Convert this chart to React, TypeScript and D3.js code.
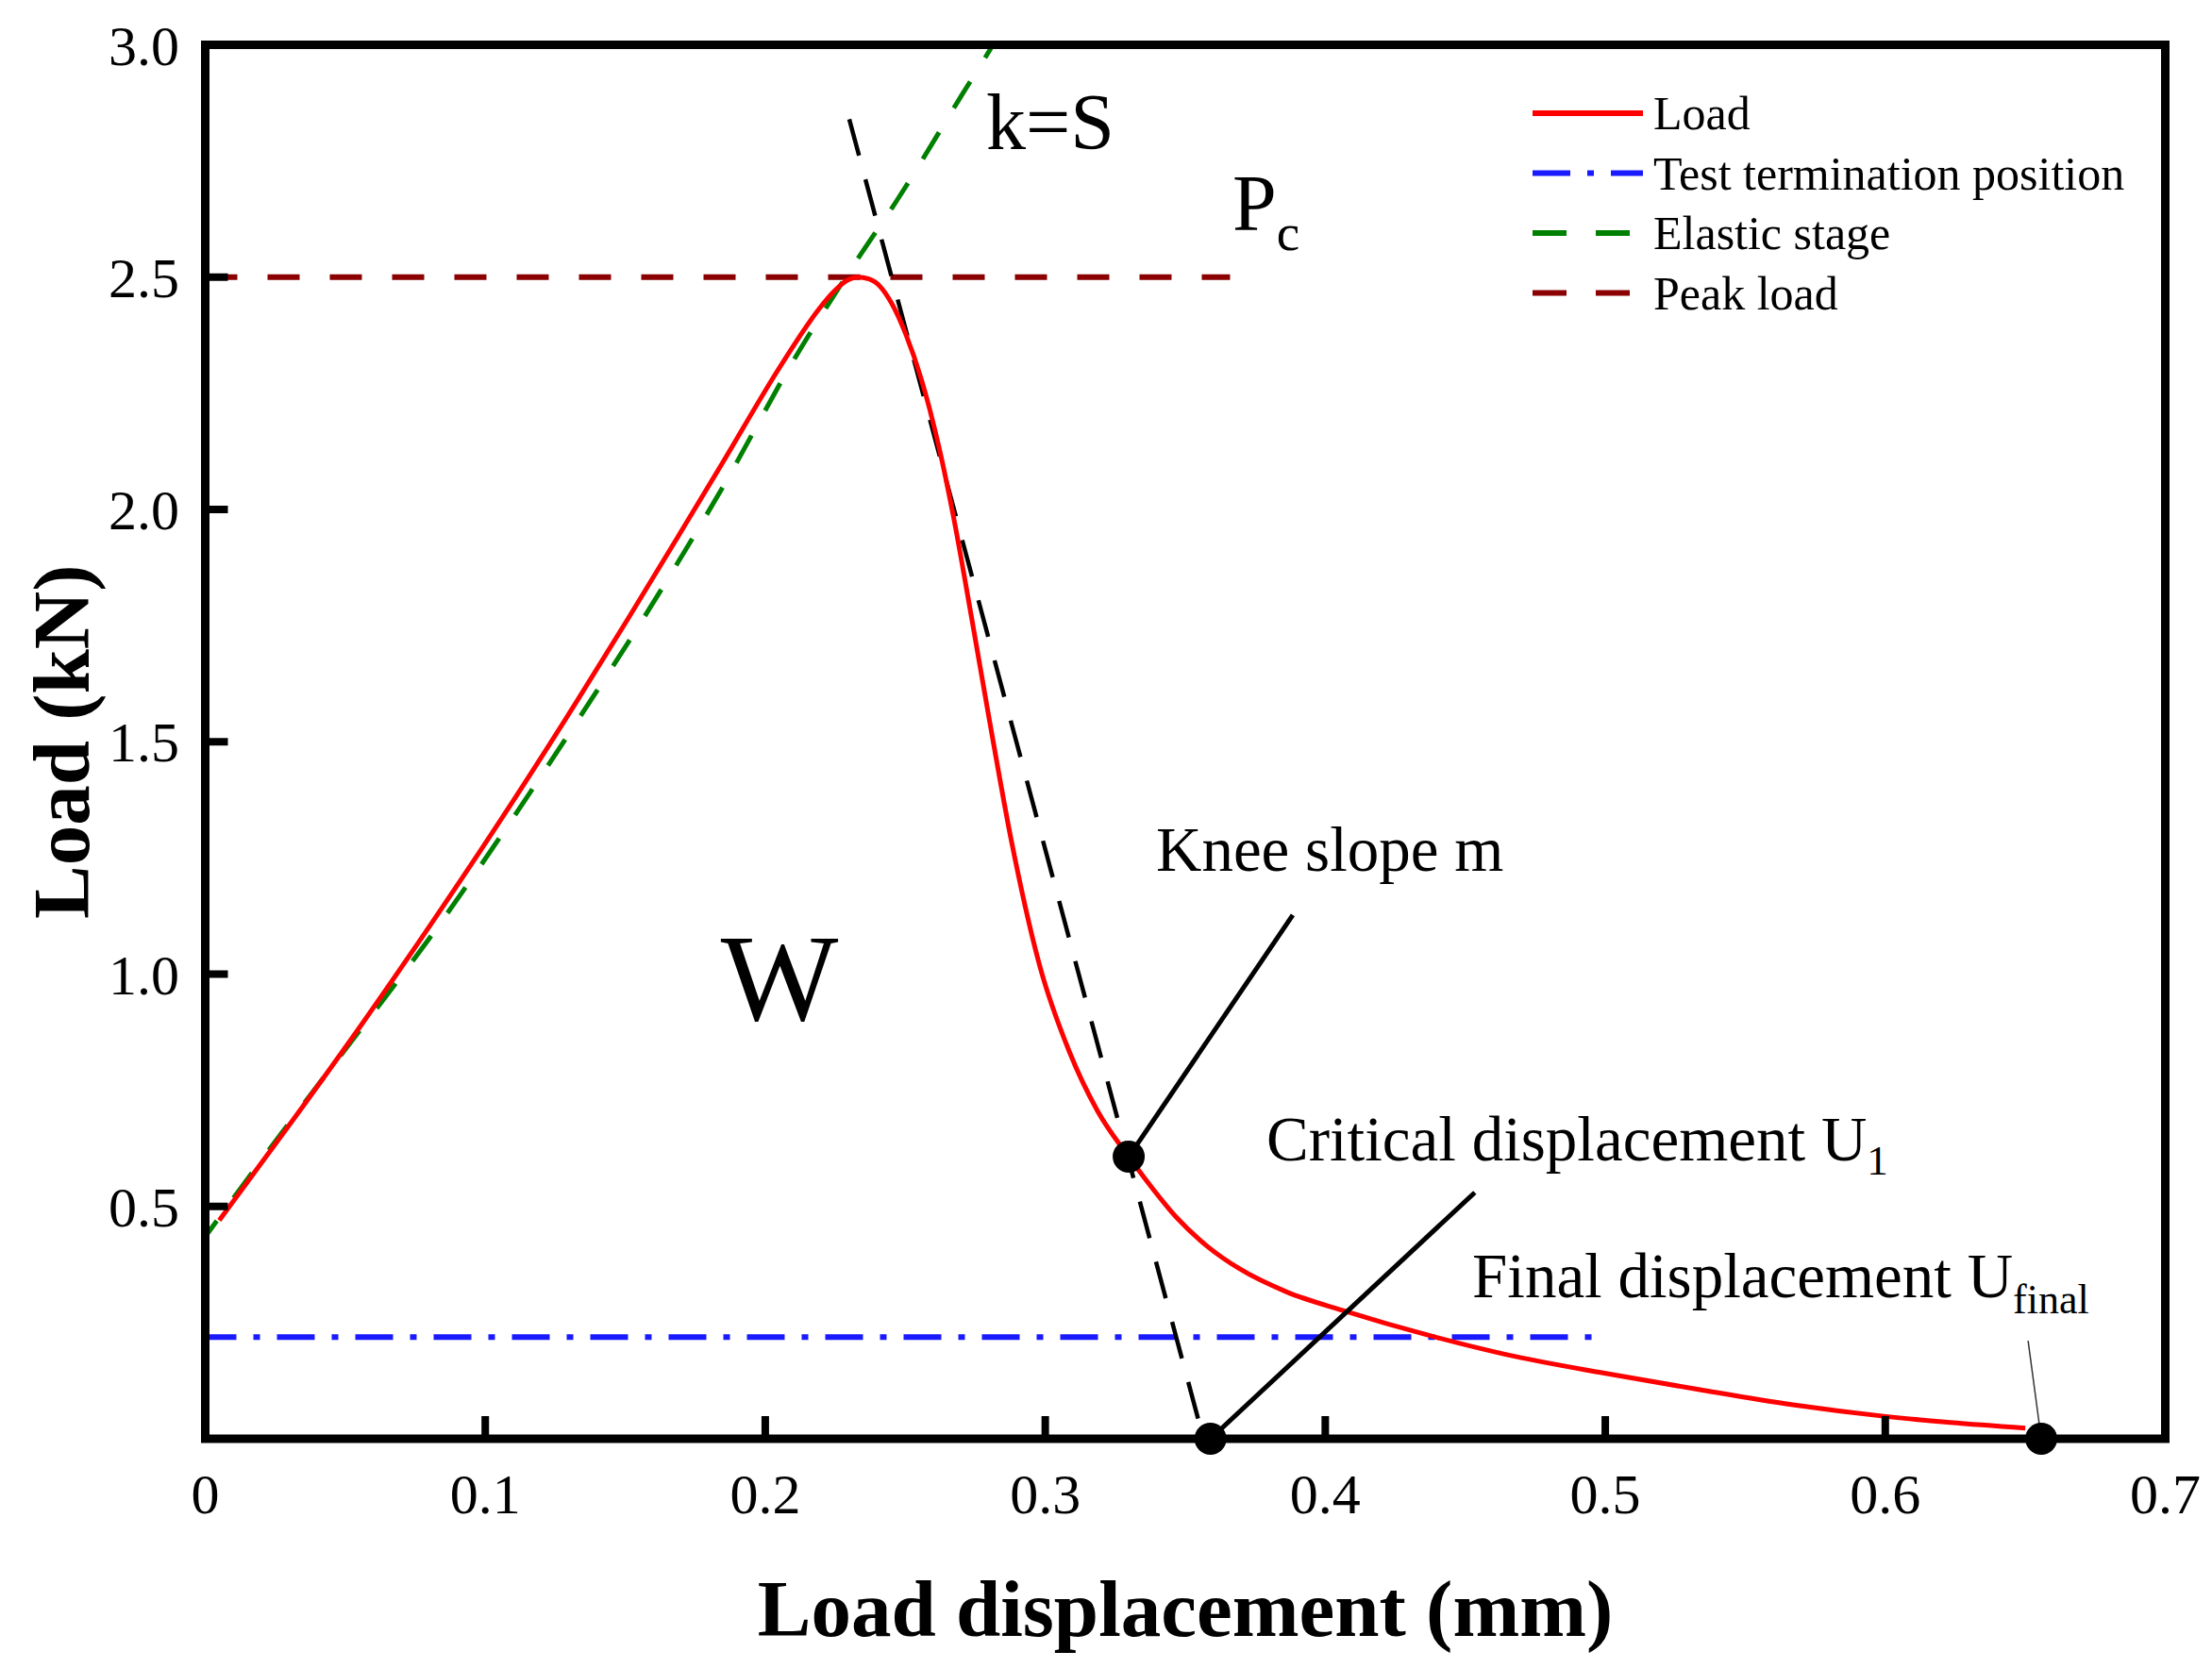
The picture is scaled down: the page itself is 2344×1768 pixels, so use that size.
import * as d3 from 'd3'

// load-displacement curve (mm, kN)
const loadX = [0.005, 0.030, 0.056, 0.081, 0.105, 0.133, 0.151, 0.169, 0.185, 0.204, 0.212, 0.219, 0.225, 0.229, 0.233, 0.237, 0.241, 0.245, 0.2504, 0.2556, 0.262, 0.2672, 0.2736, 0.2801, 0.2878, 0.2982, 0.3084, 0.3187, 0.3298, 0.3356, 0.3469, 0.3581, 0.3693, 0.3862, 0.4075, 0.4367, 0.4648, 0.4997, 0.5333, 0.567, 0.5987, 0.6232, 0.650]
const loadY = [0.47, 0.675, 0.893, 1.111, 1.327, 1.590, 1.765, 1.943, 2.103, 2.295, 2.37, 2.43, 2.472, 2.492, 2.50, 2.496, 2.48, 2.445, 2.374, 2.283, 2.135, 1.985, 1.77, 1.545, 1.29, 1.014, 0.836, 0.705, 0.607, 0.560, 0.476, 0.413, 0.366, 0.316, 0.274, 0.223, 0.181, 0.141, 0.106, 0.073, 0.049, 0.035, 0.023]

// elastic stage fit
const elasticX = [0, 0.030, 0.056, 0.081, 0.107, 0.133, 0.159, 0.185, 0.210, 0.232, 0.247, 0.270, 0.2813, 0.2842]
const elasticY = [0.435, 0.68, 0.885, 1.085, 1.31, 1.546, 1.79, 2.05, 2.32, 2.53, 2.665, 2.89, 3.0, 3.03]

// knee tangent (k=S)
const tangentX = [0.230, 0.3565]
const tangentY = [2.84, 0.0]

const peakLoad = 2.5
const peakLineEnd = 0.366
const terminationLoad = 0.219
const terminationEnd = 0.497

const kneePoint = [0.3298, 0.607]
const criticalPoint = [0.359, 0.0]
const finalPoint = [0.6557, 0.0]

const xTicks = [0, 0.1, 0.2, 0.3, 0.4, 0.5, 0.6, 0.7]
const xTickLabels = ['0', '0.1', '0.2', '0.3', '0.4', '0.5', '0.6', '0.7']
const yTicks = [0.5, 1.0, 1.5, 2.0, 2.5, 3.0]
const yTickLabels = ['0.5', '1.0', '1.5', '2.0', '2.5', '3.0']

const legendNames = ['Load', 'Test termination position', 'Elastic stage', 'Peak load']
const legendColors = ['#ff0000', '#1a1aff', '#008000', '#8b0000']
const legendDash = ['', '40 18 7 18', '36 31', '36 31']

const W = 2344
const H = 1768
const font = '"Liberation Serif", "Times New Roman", serif'

export default function App() {
  const x = d3.scaleLinear().domain([0, 0.7]).range([217.5, 2294.5])
  const y = d3.scaleLinear().domain([0, 3]).range([1525, 47.5])

  const curve = d3.line<number>()
    .x(i => x(loadX[i]))
    .y(i => y(loadY[i]))
    .curve(d3.curveMonotoneX)
  const loadPath = curve(d3.range(loadX.length)) || ''

  // drawn from the top end so the dash pattern reaches the frame
  const elastic = d3.line<number>()
    .x(i => x(elasticX[i]))
    .y(i => y(elasticY[i]))
    .curve(d3.curveMonotoneX)
  const elasticPath = elastic(d3.range(elasticX.length).reverse()) || ''

  const tickLen = 24

  return (
    <svg width={W} height={H} style={{ position: 'absolute', left: 0, top: 0, background: '#fff' }}
      fontFamily={font}>
      <defs>
        <clipPath id="plotArea">
          <rect x={x(0)} y={y(3)} width={x(0.7) - x(0)} height={y(0) - y(3)} />
        </clipPath>
      </defs>
      <rect width={W} height={H} fill="#fff" />

      {/* reference lines */}
      <g clipPath="url(#plotArea)">
        <line x1={x(0)} x2={x(peakLineEnd)} y1={y(peakLoad)} y2={y(peakLoad)}
          stroke="#8b0000" strokeWidth={6} strokeDasharray="34 32" />
        <line x1={x(0)} x2={x(terminationEnd)} y1={y(terminationLoad)} y2={y(terminationLoad)}
          stroke="#1a1aff" strokeWidth={6} strokeDasharray="40 18 7 18" strokeDashoffset={7} />
        <path d={elasticPath} fill="none" stroke="#008000" strokeWidth={5} strokeDasharray="33 30" />
        <line x1={x(tangentX[0])} x2={x(tangentX[1])} y1={y(tangentY[0])} y2={y(tangentY[1])}
          stroke="#000" strokeWidth={4.5} strokeDasharray="40 26" />
      </g>

      {/* load curve */}
      <path d={loadPath} fill="none" stroke="#ff0000" strokeWidth={5} />

      {/* leader lines */}
      <line x1={x(kneePoint[0])} y1={y(kneePoint[1])} x2={x(0.3884)} y2={y(1.127)} stroke="#000" strokeWidth={5} />
      <line x1={x(criticalPoint[0])} y1={y(criticalPoint[1])} x2={x(0.4534)} y2={y(0.530)} stroke="#000" strokeWidth={5} />
      <line x1={x(finalPoint[0])} y1={y(finalPoint[1])} x2={x(0.651)} y2={y(0.211)} stroke="#333" strokeWidth={1.5} />

      {/* frame */}
      <rect x={x(0)} y={y(3)} width={x(0.7) - x(0)} height={y(0) - y(3)} fill="none" stroke="#000" strokeWidth={9} />

      {/* ticks */}
      {xTicks.slice(1, -1).map(t => (
        <line key={'xt' + t} x1={x(t)} x2={x(t)} y1={y(0)} y2={y(0) - tickLen} stroke="#000" strokeWidth={8} />
      ))}
      {yTicks.slice(0, -1).map(t => (
        <line key={'yt' + t} x1={x(0)} x2={x(0) + tickLen} y1={y(t)} y2={y(t)} stroke="#000" strokeWidth={8} />
      ))}
      {xTicks.map((t, i) => (
        <text key={'xl' + t} x={x(t)} y={1604} fontSize={60} textAnchor="middle" fill="#000">{xTickLabels[i]}</text>
      ))}
      {yTicks.map((t, i) => (
        <text key={'yl' + t} x={190} y={y(t)} dy="0.35em" fontSize={60} textAnchor="end" fill="#000">{yTickLabels[i]}</text>
      ))}

      {/* markers */}
      {[kneePoint, criticalPoint, finalPoint].map((p, i) => (
        <circle key={'m' + i} cx={x(p[0])} cy={y(p[1])} r={17} fill="#000" />
      ))}

      {/* axis titles */}
      <text x={(x(0) + x(0.7)) / 2} y={1734} fontSize={85} fontWeight="bold" textAnchor="middle" fill="#000">
        Load displacement (mm)
      </text>
      <text transform={`translate(94, ${(y(0) + y(3)) / 2}) rotate(-90)`} fontSize={85} fontWeight="bold"
        textAnchor="middle" fill="#000">Load (kN)</text>

      {/* annotations */}
      <text x={1045} y={158} fontSize={84} fill="#000">k=S</text>
      <text x={1306} y={244} fontSize={84} fill="#000">P<tspan fontSize={55} dy={21}>c</tspan></text>
      <text x={826} y={1081} fontSize={132} textAnchor="middle" fill="#000">W</text>
      <text x={1225} y={923} fontSize={67} fill="#000">Knee slope m</text>
      <text x={1342} y={1230} fontSize={67} fill="#000">Critical displacement U<tspan fontSize={45} dy={15}>1</tspan></text>
      <text x={1560} y={1375} fontSize={67} fill="#000">Final displacement U<tspan fontSize={44} dy={17}>final</tspan></text>

      {/* legend */}
      {legendNames.map((name, i) => {
        const ly = 120 + i * 63.5
        return (
          <g key={name}>
            <line x1={1624} x2={1741} y1={ly} y2={ly} stroke={legendColors[i]} strokeWidth={6}
              strokeDasharray={legendDash[i] || undefined} />
            <text x={1752} y={ly + 17} fontSize={50} fill="#000">{name}</text>
          </g>
        )
      })}
    </svg>
  )
}
